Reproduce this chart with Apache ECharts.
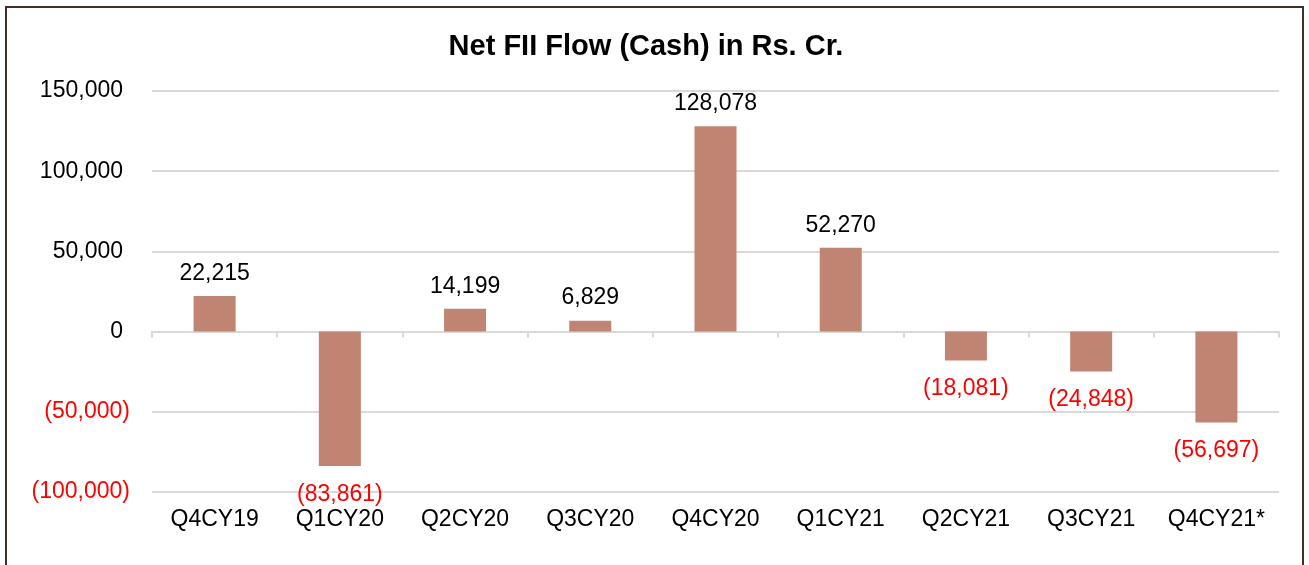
<!DOCTYPE html>
<html>
<head>
<meta charset="utf-8">
<style>
    html, body { margin: 0; padding: 0; background: #ffffff; }
    .frame {
        position: absolute; left: 5px; top: 6px; width: 1299px; height: 600px;
        border: 2px solid #3f3129; box-sizing: border-box;
    }
    #fiiFlow { position: absolute; left: 0; top: 0; width: 1309px; height: 565px; }
</style>
<script src="https://cdn.jsdelivr.net/npm/echarts@6/dist/echarts.min.js"></script>
</head>
<body>
<div class="frame"></div>
<div id="fiiFlow"></div>
<script>
    var quarters = ['Q4CY19', 'Q1CY20', 'Q2CY20', 'Q3CY20', 'Q4CY20', 'Q1CY21', 'Q2CY21', 'Q3CY21', 'Q4CY21*'];
    var netFlow = [22215, -83861, 14199, 6829, 128078, 52270, -18081, -24848, -56697];
    var yTicks = [-100000, -50000, 0, 50000, 100000, 150000];

    function fmt(v) {
        var s = Math.abs(v).toLocaleString('en-US');
        return v < 0 ? '(' + s + ')' : s;
    }

    var font = 'Liberation Sans, Arial, sans-serif';
    var fs = 23;
    var chart = echarts.init(document.getElementById('fiiFlow'));
    chart.setOption({
        animation: false,
        title: {
            text: 'Net FII Flow (Cash) in Rs. Cr.',
            left: 641,
            textAlign: 'center',
            top: 27,
            textStyle: { fontFamily: font, fontSize: 29, fontWeight: 'bold', color: '#000' }
        },
        grid: { left: 152, right: 30, top: 91, bottom: 73, containLabel: false },
        xAxis: [
            {
                type: 'category',
                data: quarters,
                position: 'bottom',
                axisLine: { show: true, onZero: true, lineStyle: { color: '#d9d9d9', width: 2 } },
                axisTick: { show: true, length: 6, lineStyle: { color: '#d9d9d9', width: 2 } },
                axisLabel: { show: false }
            },
            {
                type: 'category',
                data: quarters,
                position: 'bottom',
                axisLine: { show: false, onZero: false },
                axisTick: { show: false },
                axisLabel: { interval: 0, margin: 16, fontFamily: font, fontSize: fs, color: '#000' }
            }
        ],
        yAxis: {
            type: 'value',
            min: yTicks[0],
            max: yTicks[yTicks.length - 1],
            interval: 50000,
            axisLine: { show: false },
            axisTick: { show: false },
            splitLine: { lineStyle: { color: '#d9d9d9', width: 2 } },
            axisLabel: {
                margin: 22,
                formatter: function (v) {
                    return v < 0 ? '{n|' + fmt(v) + '}' : '{p|' + fmt(v) + '}';
                },
                rich: {
                    p: { fontFamily: font, fontSize: fs, color: '#000', padding: [0, 7, 0, 0] },
                    n: { fontFamily: font, fontSize: fs, color: '#ff0000' }
                }
            }
        },
        series: [{
            type: 'bar',
            data: netFlow.map(function (v) {
                return {
                    value: v,
                    label: {
                        position: v < 0 ? 'bottom' : 'top',
                        distance: v < 0 ? 17 : 11,
                        color: v < 0 ? '#ff0000' : '#000'
                    }
                };
            }),
            barWidth: 42,
            itemStyle: { color: '#c08473' },
            label: {
                show: true,
                fontFamily: font,
                fontSize: fs,
                formatter: function (p) { return fmt(p.value); }
            },
            labelLayout: { hideOverlap: false }
        }]
    });
</script>
</body>
</html>
